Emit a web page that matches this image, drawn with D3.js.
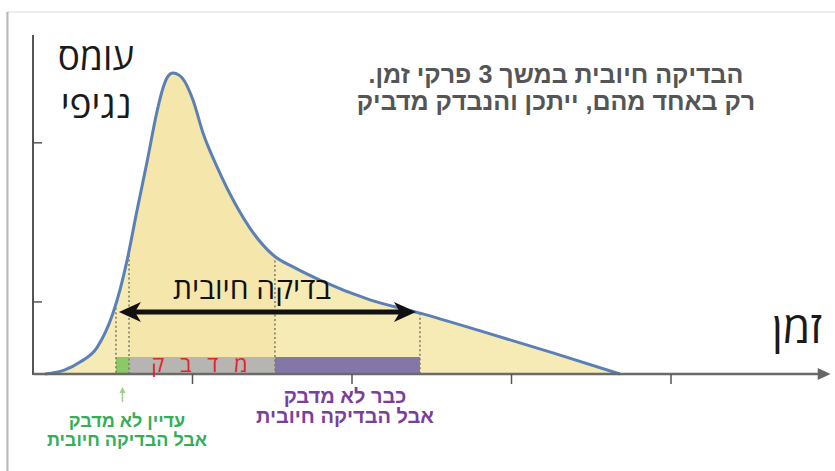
<!DOCTYPE html>
<html><head><meta charset="utf-8">
<script src="https://cdn.jsdelivr.net/npm/d3@7"></script>
<style>
html,body{margin:0;padding:0;background:#fff;}
svg{display:block;}
</style></head>
<body>
<svg id="chart" width="835" height="471"></svg>
<script>
// ---- data ----
const timeValues = [0.075,0.20,0.295,0.40,0.50,0.545,0.59,0.65,0.715,0.777,0.815,0.84,0.878,0.915,0.94,1.003,1.066,1.154,1.279,1.36,1.505,1.643,1.799,2.113,2.426,2.846,3.26,3.68];
const loadValues = [0,0.12,0.35,0.77,1.77,2.47,3.35,4.76,6.24,7.71,8.41,8.71,8.85,8.79,8.68,8.06,7.09,6.09,4.91,4.29,3.50,3.12,2.76,2.18,1.79,1.21,0.62,0];
const xTickValues = [1,2,3,4];
const yTickValues = [2.12,6.8];
const phaseBounds = [0.52,0.602,1.517,2.426]; // start positive, start infectious, end infectious, end positive
const phaseNames = ["notYet","infectious","noLonger"];
const arrowLevel = 1.82;
const yLabelLines = ["עומס","נגיפי"];
const xLabel = "זמן";
const titleLines = ["הבדיקה חיובית במשך 3 פרקי זמן.","רק באחד מהם, ייתכן והנבדק מדביק"];
const arrowLabel = "בדיקה חיובית";
const infectiousLabel = "מ ד ב ק";
const greenLines = ["עדיין לא מדבק","אבל הבדיקה חיובית"];
const purpleLines = ["כבר לא מדבק","אבל הבדיקה חיובית"];

// ---- setup ----
const svg = d3.select("#chart");
const x = d3.scaleLinear().domain([0,5]).range([33,830.5]);
const y = d3.scaleLinear().domain([0,10]).range([374,34]);
const pts = timeValues.map((t,i)=>({t, v:loadValues[i]}));
const heb = "'Open Sans','Liberation Sans','DejaVu Sans',sans-serif";
const hebBold = "'Liberation Sans','Arial','DejaVu Sans',sans-serif";

// card
svg.append("rect").attr("x",7).attr("y",12).attr("width",900).attr("height",500)
  .attr("fill","#fff").attr("stroke","#dcdcdc").attr("stroke-width",1);
svg.append("line").attr("x1",7.5).attr("x2",7.5).attr("y1",12).attr("y2",471)
  .attr("stroke","#b8b8b8").attr("stroke-width",2);

// area
const area = d3.area().x(d=>x(d.t)).y0(y(0)).y1(d=>y(d.v)).curve(d3.curveMonotoneX);
const line = d3.line().x(d=>x(d.t)).y(d=>y(d.v)).curve(d3.curveMonotoneX);
svg.append("clipPath").attr("id","clipArea").append("path").attr("d",area(pts));
svg.append("path").attr("d",area(pts)).attr("fill","#f6eab5");
svg.append("rect").attr("clip-path","url(#clipArea)")
  .attr("x",x(phaseBounds[1])).attr("width",x(phaseBounds[2])-x(phaseBounds[1]))
  .attr("y",0).attr("height",400).attr("fill","#f0d070").attr("opacity",0.14);

// interpolate curve value
function valueAt(t){
  const i = d3.bisector(d=>d.t).left(pts,t);
  if(i<=0) return pts[0].v; if(i>=pts.length) return pts[pts.length-1].v;
  const a=pts[i-1], b=pts[i]; const f=(t-a.t)/(b.t-a.t);
  return a.v+(b.v-a.v)*f;
}

// phase bars
const barColors = {notYet:"#8cc865", infectious:"#b7b5b2", noLonger:"#8576a8"};
phaseNames.forEach((p,i)=>{
  svg.append("rect").attr("x",x(phaseBounds[i])).attr("width",x(phaseBounds[i+1])-x(phaseBounds[i]))
    .attr("y",357).attr("height",y(0)-357).attr("fill",barColors[p]);
});

// dotted lines
phaseBounds.forEach(b=>{
  svg.append("line").attr("x1",x(b)).attr("x2",x(b)).attr("y1",y(valueAt(b))).attr("y2",y(0))
    .attr("stroke","#7a7a6a").attr("stroke-width",1.5).attr("stroke-dasharray","2,2.5");
});

// curve
svg.append("path").attr("d",line(pts)).attr("fill","none").attr("stroke","#5b80b6")
  .attr("stroke-width",3).attr("stroke-linejoin","round");

// axes
svg.append("line").attr("x1",33).attr("x2",33).attr("y1",35).attr("y2",y(0)+1)
  .attr("stroke","#555").attr("stroke-width",2);
yTickValues.forEach(v=>{
  svg.append("line").attr("x1",33).attr("x2",42).attr("y1",y(v)).attr("y2",y(v))
    .attr("stroke","#555").attr("stroke-width",1.5);
});
svg.append("line").attr("x1",33).attr("x2",x(4.94)).attr("y1",y(0)).attr("y2",y(0))
  .attr("stroke","#6a6a6a").attr("stroke-width",2.5);
svg.append("path").attr("d",`M${x(4.92)},${y(0)-6}L${x(5.0)},${y(0)}L${x(4.92)},${y(0)+6}Z`).attr("fill","#666");
xTickValues.forEach(v=>{
  svg.append("line").attr("x1",x(v)).attr("x2",x(v)).attr("y1",y(0)).attr("y2",y(0)+10)
    .attr("stroke","#555").attr("stroke-width",1.5);
});

// double arrow
const ax1 = x(phaseBounds[0])+3, ax2 = x(phaseBounds[3])-4, ay = y(arrowLevel);
svg.append("line").attr("x1",ax1+14).attr("x2",ax2-14).attr("y1",ay).attr("y2",ay)
  .attr("stroke","#111").attr("stroke-width",5);
svg.append("path").attr("d",`M${ax1},${ay}L${ax1+22},${ay-10}L${ax1+16},${ay}L${ax1+22},${ay+10}Z`).attr("fill","#111");
svg.append("path").attr("d",`M${ax2},${ay}L${ax2-22},${ay-10}L${ax2-16},${ay}L${ax2-22},${ay+10}Z`).attr("fill","#111");

// texts
function txt(s,xx,yy,size,color,weight,family,extra){
  const t = svg.append("text").attr("x",xx).attr("y",yy).attr("direction","rtl")
    .attr("text-anchor","middle").attr("font-size",size).attr("fill",color)
    .attr("font-weight",weight).attr("font-family",family).text(s);
  if(extra) extra(t);
  return t;
}
txt(arrowLabel,252,299,30,"#111","normal",heb);
txt(infectiousLabel,202,372,22,"#e2242c","normal",heb,t=>t.attr("letter-spacing",5));
yLabelLines.forEach((s,i)=>txt(s,96,70+i*48,37,"#1a1a1a","normal",heb));
txt(xLabel,797,343,44,"#1a1a1a","normal",heb);
titleLines.forEach((s,i)=>txt(s,556,83+i*27,25,"#555","bold",hebBold));
greenLines.forEach((s,i)=>txt(s,127,427+i*19,18,"#35ad5a","bold",hebBold));
purpleLines.forEach((s,i)=>txt(s,345,403+i*20,20,"#7a3e9c","bold",hebBold));

// small green arrow
const gx = x((phaseBounds[0]+phaseBounds[1])/2);
svg.append("line").attr("x1",gx).attr("x2",gx).attr("y1",402).attr("y2",392).attr("stroke","#9ad08a").attr("stroke-width",1.5);
svg.append("path").attr("d",`M${gx-3},${393}L${gx},${387}L${gx+3},${393}Z`).attr("fill","#9ad08a");
</script>
</body></html>
